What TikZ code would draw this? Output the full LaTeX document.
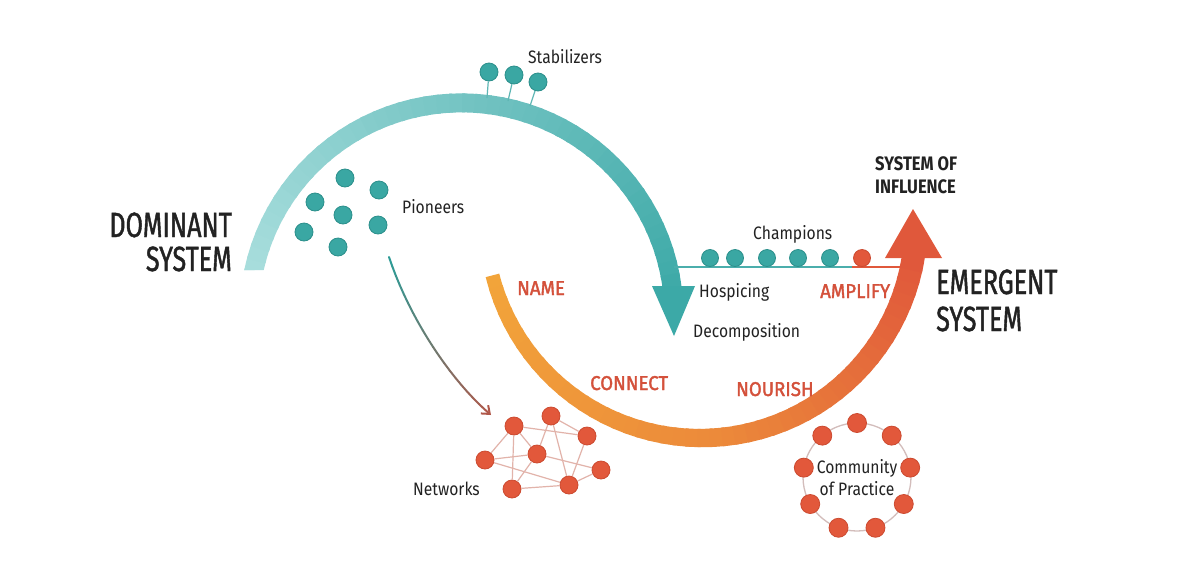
\documentclass[tikz,border=0pt]{standalone}
\usepackage{fontspec}
\setmainfont{Fira Sans}[FakeStretch=0.87]
\newfontfamily\titlefont{Fira Sans}[FakeStretch=0.72, FakeBold=1.2]
\newfontfamily\labfont{Fira Sans}[FakeStretch=0.93, FakeBold=1.8]
\newfontfamily\inffont{Fira Sans}[FakeStretch=0.85]
\usetikzlibrary{arrows.meta}
\definecolor{tealL}{HTML}{A9DEDD}
\definecolor{tealD}{HTML}{3FAAA8}
\definecolor{tealHead}{HTML}{3CA9A7}
\definecolor{tealDot}{HTML}{3AA7A3}
\definecolor{tealEdge}{HTML}{2B8F8B}
\definecolor{tealLine}{HTML}{4BAEAC}
\definecolor{stemC}{HTML}{5EB6B4}
\definecolor{oA}{HTML}{F2A43A}
\definecolor{oB}{HTML}{EC8A3A}
\definecolor{oC}{HTML}{E0583B}
\definecolor{redDot}{HTML}{E2583B}
\definecolor{redEdge}{HTML}{CC4A30}
\definecolor{lbl}{HTML}{D4513B}
\definecolor{txt}{HTML}{222222}
\definecolor{netLine}{HTML}{E2B3AA}
\definecolor{ringLine}{HTML}{D3BDBB}
\definecolor{arrTop}{HTML}{2E9B96}
\definecolor{arrBot}{HTML}{B0584A}
\tikzset{
  tdot/.style={circle, fill=tealDot, draw=tealEdge, line width=0.8, minimum size=18, inner sep=0},
  cdot/.style={circle, fill=tealDot, draw=tealEdge, line width=0.8, minimum size=17, inner sep=0},
  rdot/.style={circle, fill=redDot, draw=redEdge, line width=0.8, minimum size=18, inner sep=0},
  stem/.style={draw=stemC, line width=1.2},
  netedge/.style={draw=netLine, line width=1.2},
  lab/.style={font=\fontsize{18}{20}\selectfont, text=txt, inner sep=0, anchor=base west},
  olab/.style={font=\labfont\fontsize{20}{22}\selectfont, text=lbl, inner sep=0, anchor=base west},
  ttl/.style={font=\titlefont\fontsize{35}{38}\selectfont, text=txt, inner sep=0},
  inf/.style={font=\inffont\bfseries\fontsize{19.5}{22}\selectfont, text=txt, inner sep=0, anchor=base west}
}
\begin{document}
\begin{tikzpicture}[x=1pt,y=-1pt]
\fill[white] (0,0) rectangle (1200,574);
\useasboundingbox (0,0) rectangle (1200,574);

% ---------- teal arc (dominant system) ----------
\begin{scope}
\clip (0,0) -- (1200,0) -- (1200,574) -- (400,574) -- (400,270) -- (0,270) -- cycle;
\foreach \i in {0,...,47}{
  \pgfmathsetmacro\ta{-172+164.34*\i/48}
  \pgfmathsetmacro\tb{-172+164.34*(\i+1.25)/48}
  \pgfmathtruncatemacro\p{100*\i/47}
  \draw[line width=19, draw=tealD!\p!tealL] ([shift={(461.5,315.3)}]\ta:212.4) arc[start angle=\ta, end angle=\tb, radius=212.4];
}
\end{scope}
\fill[tealHead] (652,286) -- (695,286) -- (674,336) -- cycle;

% ---------- orange arc (emergent system) ----------
\foreach \i in {0,...,47}{
  \pgfmathsetmacro\ta{165.9-156.5*\i/48}
  \pgfmathsetmacro\tb{165.9-156.5*(\i+1.25)/48}
  \pgfmathsetmacro\w{14+9*\i/47}
  \pgfmathtruncatemacro\p{\i<24 ? 100*\i/24 : 100*(\i-24)/23}
  \ifnum\i<24 \colorlet{segc}{oB!\p!oA}\else\colorlet{segc}{oC!\p!oB}\fi
  \draw[line width=\w, draw=segc] ([shift={(701,223)}]\ta:215) arc[start angle=\ta, end angle=\tb, radius=215];
}
\fill[oC] (885,258) -- (942,258) -- (913,209) -- cycle;

% ---------- champions line ----------
\coordinate (chA) at (674,267);
\coordinate (chM) at (852,267);
\coordinate (chB) at (907,267);
\draw[tealLine, line width=1.8] (chA) -- (chM);
\draw[oC, line width=1.8] (chM) -- (chB);
\node[cdot] (c1) at (710,258) {};
\node[cdot] (c2) at (735,258) {};
\node[cdot] (c3) at (767,258) {};
\node[cdot] (c4) at (798,258) {};
\node[cdot] (c5) at (830,258) {};
\node[rdot, minimum size=17] (c6) at (862,258) {};

% ---------- stabilizers ----------
\node[tdot] (s1) at (489,72) {};
\node[tdot] (s2) at (514,75) {};
\node[tdot] (s3) at (538,82) {};
\coordinate (s1b) at (487,98);
\coordinate (s2b) at (508,101);
\coordinate (s3b) at (530,106);
\draw[stem] (s1) -- (s1b);
\draw[stem] (s2) -- (s2b);
\draw[stem] (s3) -- (s3b);

% ---------- pioneers ----------
\node[tdot] (p1) at (345,178) {};
\node[tdot] (p2) at (315,202) {};
\node[tdot] (p3) at (379,190) {};
\node[tdot] (p4) at (343,215) {};
\node[tdot] (p5) at (378,225) {};
\node[tdot] (p6) at (304,232) {};
\node[tdot] (p7) at (338,247) {};

% ---------- pioneers -> networks arrow ----------
\coordinate (pa0) at (389,257);
\coordinate (pa1) at (410,320);
\coordinate (pa2) at (452,382);
\coordinate (pa3) at (491,415);
\foreach \i in {0,...,18}{
  \pgfmathsetmacro\ua{\i/20}
  \pgfmathsetmacro\ub{(\i+1)/20}
  \pgfmathtruncatemacro\p{100*\i/19}
  \path (pa0) .. controls (pa1) and (pa2) .. (pa3) coordinate[pos=\ua] (qa) coordinate[pos=\ub] (qb);
  \draw[line width=2, line cap=round, draw=arrBot!\p!arrTop] (qa) -- (qb);
}
\path (pa0) .. controls (pa1) and (pa2) .. (pa3) coordinate[pos=0.95] (qz);
\draw[line width=2, draw=arrBot, -{Straight Barb[length=7pt,width=11pt,line width=2pt]}] (qz) -- (pa3);

% ---------- networks ----------
\node[rdot] (n1) at (514,426) {};
\node[rdot] (n2) at (551,416) {};
\node[rdot] (n3) at (587,436) {};
\node[rdot] (n4) at (537,454) {};
\node[rdot] (n5) at (485,460) {};
\node[rdot] (n6) at (601,470) {};
\node[rdot] (n7) at (512,489) {};
\node[rdot] (n8) at (569,485) {};
\foreach \a/\b in {n1/n3, n2/n3, n1/n5, n1/n4, n1/n7, n2/n4, n2/n8, n3/n8, n5/n4, n5/n8, n4/n6, n4/n7, n7/n8, n8/n6}
  \draw[netedge] (\a) -- (\b);

% ---------- community of practice ----------
\coordinate (cop) at (857,477);
\draw[ringLine, line width=1.3] (cop) circle[radius=54];
\foreach \k in {0,...,8}{
  \node[rdot, minimum size=19] (r\k) at ([shift={(857,477)}]-90+40*\k:54) {};
}
\node[lab, anchor=base] (copA) at (857,473) {Community};
\node[lab, anchor=base] (copB) at (857,495) {of Practice};

% ---------- labels ----------
\node[lab] (stab) at (528,63) {Stabilizers};
\node[lab] (pion) at (402,213) {Pioneers};
\node[lab] (champ) at (753,239) {Champions};
\node[lab] (hosp) at (699,297) {Hospicing};
\node[lab] (deco) at (693,337) {Decomposition};
\node[lab] (netw) at (413,495) {Networks};

\node[olab] (name) at (517,295) {NAME};
\node[olab] (conn) at (590,390) {CONNECT};
\node[olab] (nour) at (736,396) {NOURISH};
\node[olab] (ampl) at (820,298) {AMPLIFY};

\node[inf] (soi1) at (875,170) {SYSTEM OF};
\node[inf] (soi2) at (875,193) {INFLUENCE};

\node[ttl, anchor=base east] (dom1) at (232,237) {DOMINANT};
\node[ttl, anchor=base east] (dom2) at (232,271) {SYSTEM};
\node[ttl, anchor=base west] (em1) at (936,294) {EMERGENT};
\node[ttl, anchor=base west] (em2) at (936,331) {SYSTEM};
\end{tikzpicture}
\end{document}
